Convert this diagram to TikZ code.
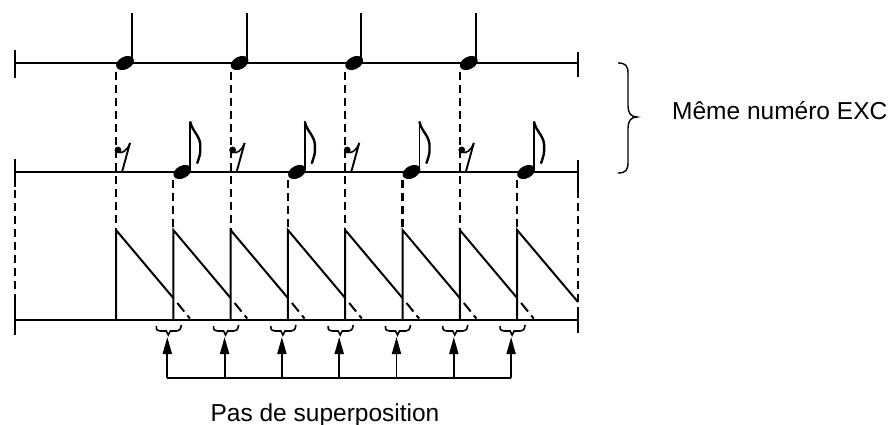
\documentclass[tikz,border=0pt]{standalone}
\usepackage{fontspec}
\setmainfont{Liberation Sans}
\usetikzlibrary{arrows.meta}
\begin{document}
\begin{tikzpicture}[x=1pt,y=-1pt,
  staff/.style={line width=2pt},
  endtick/.style={line width=2.4pt},
  guide/.style={line width=2.1pt, dash pattern=on 8pt off 5pt},
  ramp/.style={line width=2pt, line join=miter},
  overlap/.style={line width=2pt, dash pattern=on 11pt off 5pt on 4pt off 10pt},
  gapmark/.style={line width=1.6pt},
  uparrow/.style={line width=1.8pt, -{Triangle[length=17pt,width=9pt]}},
  stem/.style={line width=1.9pt},
  flag/.style={line width=2.4pt, line cap=round},
  bigbrace/.style={line width=1.4pt},
  label/.style={font=\fontsize{24.5}{29}\selectfont, inner sep=0pt}
]
\useasboundingbox (0,0) rectangle (891,425);

% three horizontal time lines with their end ticks
\coordinate (aW) at (15,63);  \coordinate (aE) at (578,63);
\coordinate (bW) at (15,172); \coordinate (bE) at (578,172);
\coordinate (cW) at (15,320); \coordinate (cE) at (578,320);
\draw[staff] (aW) -- (aE);
\draw[staff] (bW) -- (bE);
\draw[staff] (cW) -- (cE);
\draw[endtick] (15,50) -- (15,78);   \draw[endtick] (578,52) -- (578,77);
\draw[endtick] (15,159) -- (15,187); \draw[endtick] (578,160) -- (578,190);
\draw[endtick] (15,300) -- (15,335); \draw[endtick] (578,310) -- (578,333);

% outer dashed guides
\draw[guide] (15,190) -- (15,300);
\draw[guide] (578,190) -- (578,310);

\foreach \i in {0,...,7}{
  \pgfmathsetmacro{\x}{116+57.3*\i}
  \pgfmathsetmacro{\xn}{\i<7 ? 116+57.3*(\i+1) : 578}
  \pgfmathsetmacro{\yn}{\i<7 ? 298 : 302}
  \coordinate (top\i) at (\x,230);
  \coordinate (base\i) at (\x,320);
  % sawtooth ramp
  \draw[ramp] (base\i) -- (top\i) -- (\xn,\yn);
  \ifodd\i
    % eighth note on the second line
    \draw[guide] (\x,180) -- (top\i);
    \fill (\x+9,172) ellipse [x radius=9.5pt, y radius=6.2pt, rotate=28];
    \draw[stem] (\x+17,170) -- (\x+17,122);
    \draw[flag] (\x+17,122) .. controls (\x+19,132) and (\x+28,136) .. (\x+27,148)
                .. controls (\x+27,154) .. (\x+24,163);
  \else
    % quarter note on the first line, eighth rest on the second
    \draw[guide] (\x,72) -- (top\i);
    \fill (\x+9,63) ellipse [x radius=9.5pt, y radius=6.2pt, rotate=28];
    \draw[stem] (\x+16,61) -- (\x+16,13);
    \fill (\x+2,150) circle (3.4pt);
    \draw[line width=1.6pt] (\x+2,152) .. controls (\x+6,154) and (\x+11,151) .. (\x+14,143);
    \draw[line width=1.9pt] (\x+14,143) -- (\x+6,172);
  \fi
}

% overlap marks, brackets and arrows
\foreach \i in {1,...,7}{
  \pgfmathsetmacro{\x}{116+57.3*\i}
  \draw[overlap] (\x+4,303) -- (\x+17,319);
  \pgfmathsetmacro{\c}{\x-5}
  \draw[gapmark] (\c-12,326) .. controls (\c-12,330) .. (\c-8,331) -- (\c-2,331)
      -- (\c,335) -- (\c+2,331) -- (\c+8,331) .. controls (\c+12,330) .. (\c+13,325);
  \coordinate (foot\i) at (\x-6,378);
  \coordinate (tip\i) at (\x-6,337);
  \draw[uparrow] (foot\i) -- (tip\i);
}
\draw[staff] (foot1) -- (foot7);

% right-hand brace and labels
\draw[bigbrace] (618,63) .. controls (626,63) and (628,66) .. (628,74) -- (628,106)
  .. controls (628,113) and (631,117) .. (637,117)
  .. controls (631,117) and (628,121) .. (628,128) -- (628,162)
  .. controls (628,170) and (626,173) .. (618,173);
\node[label, anchor=base west] (exc) at (672,120) {Même numéro EXC};
\node[label, anchor=base] (pas) at (325,421) {Pas de superposition};
\end{tikzpicture}
\end{document}
